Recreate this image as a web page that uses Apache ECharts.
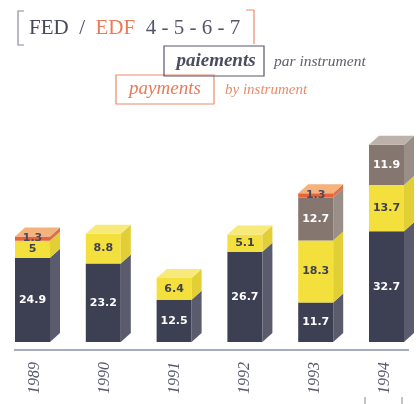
<!DOCTYPE html>
<html>
<head>
<meta charset="utf-8">
<script src="https://cdn.jsdelivr.net/npm/echarts@6/dist/echarts.min.js"></script>
<style>
  html, body { margin: 0; padding: 0; background: #fff; }
  #chart { width: 420px; height: 404px; }
</style>
</head>
<body>
<div id="chart"></div>
<script>
// payments by instrument (stacked, bottom to top)
const years = ["1989", "1990", "1991", "1992", "1993", "1994"];
const darkVals = [24.9, 23.2, 12.5, 26.7, 11.7, 32.7];
const yellowVals = [5, 8.8, 6.4, 5.1, 18.3, 13.7];
const taupeVals = [0, 0, 0, 0, 12.7, 11.9];
const redVals = [1.3, 0, 0, 0, 1.3, 0];

const layers = [
  { vals: darkVals, front: "#3d3f52", side: "#5a5c6e", top: "#6a6c7e", label: "#ffffff" },
  { vals: yellowVals, front: "#f4e03c", side: "#e2cf36", top: "#f7ea7a", label: "#3d3f52" },
  { vals: taupeVals, front: "#85766f", side: "#9a8e88", top: "#bdb1ab", label: "#ffffff" },
  { vals: redVals, front: "#e8623c", side: "#dc7048", top: "#f4b27c", label: "#4a4c5e" }
];

const W = 35, DX = 10, DY = 9;

// build stacked data for each layer: [index, base, top, value, isTop]
let bases = years.map(() => 0);
const layerData = layers.map((l, li) => {
  let out = [];
  l.vals.forEach((v, i) => {
    if (!v) return;
    let higher = layers.slice(li + 1).some(h => h.vals[i] > 0);
    out.push([i, bases[i], bases[i] + v, v, higher ? 0 : 1]);
    bases[i] += v;
  });
  return out;
});

function makeRender(layer) {
  return function (params, api) {
    const p0 = api.coord([api.value(0), api.value(1)]);
    const p1 = api.coord([api.value(0), api.value(2)]);
    const x0 = p0[0] - W / 2;
    const yb = p0[1], yt = p1[1];
    const kids = [
      { type: "rect", shape: { x: x0, y: yt, width: W, height: yb - yt }, style: { fill: layer.front } },
      { type: "polygon", shape: { points: [[x0 + W, yt], [x0 + W + DX, yt - DY], [x0 + W + DX, yb - DY], [x0 + W, yb]] }, style: { fill: layer.side } }
    ];
    if (api.value(4)) {
      kids.push({ type: "polygon", shape: { points: [[x0, yt], [x0 + DX, yt - DY], [x0 + W + DX, yt - DY], [x0 + W, yt]] }, style: { fill: layer.top } });
    }
    kids.push({
      type: "text",
      style: {
        text: String(api.value(3)), x: x0 + W / 2, y: (yt + yb) / 2,
        align: "center", verticalAlign: "middle",
        fill: layer.label, font: "bold 11px 'DejaVu Sans'"
      },
      z2: 10
    });
    return { type: "group", children: kids };
  };
}

const chart = echarts.init(document.getElementById("chart"));
const option = {
  animation: false,
  grid: { left: 0, right: 0, top: 139, bottom: 62 },
  xAxis: [
    {
      type: "category",
      data: years,
      axisLine: { show: false },
      axisTick: { show: false },
      axisLabel: {
        rotate: 90, margin: 20, color: "#55566a",
        fontFamily: "Liberation Serif", fontStyle: "italic", fontSize: 16
      }
    },
    { type: "value", min: -0.459, max: 5.473, show: false }
  ],
  yAxis: { type: "value", min: 0, max: 60, show: false },
  series: layers.map((l, li) => ({
    type: "custom",
    renderItem: makeRender(l),
    xAxisIndex: 1,
    encode: { x: 0, y: [1, 2] },
    data: layerData[li],
    z: 2 + li
  })),
  graphic: [
    // title brackets
    { type: "polyline", shape: { points: [[24, 11], [18, 11], [18, 45], [24, 45]] }, style: { stroke: "#8a8b98", lineWidth: 1.2, fill: null } },
    { type: "polyline", shape: { points: [[246, 10], [254, 10], [254, 44]] }, style: { stroke: "#ec8a6a", lineWidth: 1.2, fill: null } },
    {
      type: "text", left: 29, top: 18,
      style: {
        text: "{a|FED  /  }{b|EDF}{c|  4 - 5 - 6 - 7}",
        rich: {
          a: { fontFamily: "Liberation Serif", fontSize: 21, fill: "#45475c" },
          b: { fontFamily: "Liberation Serif", fontSize: 21, fill: "#ec7a58" },
          c: { fontFamily: "Liberation Serif", fontSize: 21, fill: "#55566a" }
        }
      }
    },
    // boxes
    { type: "rect", shape: { x: 116, y: 75, width: 98, height: 29 }, style: { stroke: "#ec8a6a", lineWidth: 1.2, fill: null } },
    { type: "rect", shape: { x: 164, y: 46, width: 100, height: 30 }, style: { stroke: "#55566a", lineWidth: 1.2, fill: null } },
    { type: "text", x: 216, y: 61, style: { text: "paiements", align: "center", verticalAlign: "middle", font: "italic bold 19px 'Liberation Serif'", fill: "#4a4c60" } },
    { type: "text", x: 274, y: 62, style: { text: "par instrument", align: "left", verticalAlign: "middle", font: "italic 15.5px 'Liberation Serif'", fill: "#5f606c" } },
    { type: "text", x: 165, y: 89, style: { text: "payments", align: "center", verticalAlign: "middle", font: "italic 19px 'Liberation Serif'", fill: "#ea7a56" } },
    { type: "text", x: 225, y: 90, style: { text: "by instrument", align: "left", verticalAlign: "middle", font: "italic 15px 'Liberation Serif'", fill: "#ec8a6a" } },
    // baseline
    { type: "line", shape: { x1: 14, y1: 350, x2: 409, y2: 350 }, style: { stroke: "#8a90aa", lineWidth: 1.5 } },
    // small page ticks
    { type: "line", shape: { x1: 365, y1: 397, x2: 365, y2: 404 }, style: { stroke: "#888", lineWidth: 1 } },
    { type: "line", shape: { x1: 402, y1: 397, x2: 402, y2: 404 }, style: { stroke: "#888", lineWidth: 1 } }
  ]
};
chart.setOption(option);
</script>
</body>
</html>
